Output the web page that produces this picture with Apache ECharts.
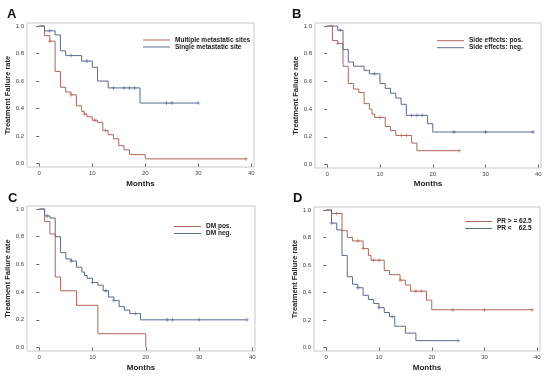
<!DOCTYPE html>
<html>
<head>
<meta charset="utf-8">
<script src="https://cdn.jsdelivr.net/npm/echarts@6/dist/echarts.min.js"></script>
<style>html,body{margin:0;padding:0;background:#fff}#c{width:550px;height:377px}</style>
</head>
<body>
<div id="c"></div>
<script>
// ---- data ----
const xTickValues = [0, 10, 20, 30, 40];
const yTickValues = [0, 0.2, 0.4, 0.6, 0.8, 1.0];
const panelLetters = ['A', 'B', 'C', 'D'];
const xTitle = 'Months';
const yTitle = 'Treatment Failure rate';

// Panel A
const aRedName = 'Multiple metastatic sites';
const aRedTimes = [0,1,2,3,4,5,6,7,8,8.5,9,10,11,12,13,14,15,16,17,20,39];
const aRedVals  = [1,0.93,0.89,0.67,0.555,0.52,0.50,0.42,0.38,0.36,0.34,0.315,0.30,0.24,0.21,0.18,0.13,0.10,0.065,0.034,0.034];
const aRedCens  = [2,6,8.5,10.5,12.5,39];
const aBlueName = 'Single metastatic site';
const aBlueTimes = [0,1,3,4,5,8,10,11,13,19,30];
const aBlueVals  = [1,0.965,0.935,0.82,0.785,0.745,0.70,0.60,0.55,0.44,0.44];
const aBlueCens  = [2,6,9,14,16,17,18,24,25,30];

// Panel B
const bRedName = 'Side effects: pos.';
const bRedTimes = [0,1,2,3,4,5,6,7,8,8.5,9,11,12,13,16,17,25];
const bRedVals  = [1,0.895,0.875,0.71,0.585,0.545,0.52,0.44,0.40,0.365,0.34,0.275,0.245,0.21,0.155,0.10,0.10];
const bRedCens  = [2,10,14,15,25];
const bBlueName = 'Side effects: neg.';
const bBlueTimes = [0,2,3,4,5,7,8,10,11,12,13,14,15,19,20,39];
const bBlueVals  = [1,0.97,0.83,0.74,0.71,0.68,0.655,0.585,0.55,0.515,0.48,0.435,0.355,0.295,0.235,0.235];
const bBlueCens  = [2.5,9,16,17,18,24,30,39];

// Panel C
const cRedName = 'DM pos.';
const cRedTimes = [0,1,2,3,4,7,11,20];
const cRedVals  = [1,0.91,0.82,0.51,0.41,0.305,0.10,0];
const cRedCens  = [];
const cBlueName = 'DM neg.';
const cBlueTimes = [0,1,2,3,4,5,6,7,8,8.5,9,10,11,12,13,14,15,16,17,19,39];
const cBlueVals  = [1,0.95,0.935,0.80,0.685,0.64,0.625,0.58,0.545,0.52,0.50,0.47,0.45,0.41,0.365,0.34,0.295,0.27,0.245,0.20,0.20];
const cBlueCens  = [1.5,6,10,12.5,14,18,24,25,30,39];

// Panel D
const dRedName = 'PR > = 62.5';
const dRedTimes = [0,1,3,4,5,7,8,8.5,11,12,14,15,16,19,20,39];
const dRedVals  = [1,0.975,0.85,0.80,0.775,0.72,0.67,0.635,0.56,0.53,0.49,0.455,0.41,0.345,0.275,0.275];
const dRedCens  = [2,6,7,9,10,14,17,18,24,30,39];
const dBlueName = 'PR <    62.5';
const dBlueTimes = [0,1,2,3,4,5,6,7,8,9,10,11,12,13,15,17,25];
const dBlueVals  = [1,0.905,0.855,0.67,0.515,0.46,0.435,0.38,0.35,0.32,0.29,0.255,0.225,0.155,0.105,0.05,0.05];
const dBlueCens  = [1,6,10,12.5,25];

// ---- styles / layout ----
const RED = '#b0665c';
const BLUE = '#5c6a8e';
const panels = [
  {grid:{left:27,top:23,width:227,height:144}, letter:[7,8], yGap:9, xGap:13,
   legend:{left:143,top:36.5,gap:5.3}, red:[aRedName,aRedTimes,aRedVals,aRedCens], blue:[aBlueName,aBlueTimes,aBlueVals,aBlueCens]},
  {grid:{left:315,top:23,width:226,height:145}, letter:[292,8], yGap:12, xGap:12,
   legend:{left:437,top:37.2,gap:5.7}, red:[bRedName,bRedTimes,bRedVals,bRedCens], blue:[bBlueName,bBlueTimes,bBlueVals,bBlueCens]},
  {grid:{left:27,top:206,width:228,height:145}, letter:[8,192], yGap:9, xGap:13,
   legend:{left:174,top:223,gap:5.3}, red:[cRedName,cRedTimes,cRedVals,cRedCens], blue:[cBlueName,cBlueTimes,cBlueVals,cBlueCens]},
  {grid:{left:314,top:207,width:226,height:144}, letter:[293,192], yGap:14, xGap:13,
   legend:{left:465,top:218,gap:6}, red:[dRedName,dRedTimes,dRedVals,dRedCens], blue:[dBlueName,dBlueTimes,dBlueVals,dBlueCens]}
];

function pairs(t, v){ return t.map((x,i)=>[x, v[i]]); }
function atTime(t, v, x){ let y = v[0]; for (let i=0;i<t.length;i++){ if (t[i] <= x) y = v[i]; } return y; }
const plusSym = 'path://M4,0h2v4h4v2h-4v4h-2v-4h-4v-2h4z';

const grids=[], xAxes=[], yAxes=[], series=[], legends=[], graphics=[];
panels.forEach((p, i) => {
  grids.push(Object.assign({show:true, borderColor:'#c8c8c8', borderWidth:1, backgroundColor:'#fff'}, p.grid));
  xAxes.push({type:'value', gridIndex:i, min:-2.3, max:40.5,
    name:xTitle, nameLocation:'middle', nameGap:p.xGap,
    nameTextStyle:{fontFamily:'Liberation Sans', fontWeight:'bold', fontSize:8, color:'#222'},
    splitLine:{show:false}, axisLine:{show:false},
    axisTick:{show:true, length:3, customValues:xTickValues, lineStyle:{color:'#666', width:1}},
    axisLabel:{customValues:xTickValues, fontSize:6, color:'#444', margin:3, fontFamily:'Liberation Sans'}});
  yAxes.push({type:'value', gridIndex:i, min:-0.025, max:1.022,
    name:yTitle, nameLocation:'middle', nameGap:p.yGap, nameRotate:90,
    nameTextStyle:{fontFamily:'Liberation Sans', fontWeight:'bold', fontSize:7.5, color:'#222'},
    splitLine:{show:false}, axisLine:{show:false},
    axisTick:{show:true, length:3, customValues:yTickValues, lineStyle:{color:'#666', width:1}},
    axisLabel:{customValues:yTickValues, fontSize:6, color:'#444', margin:3, fontFamily:'Liberation Sans',
      formatter:v=>Number(v).toFixed(1)}});
  [[p.red, RED],[p.blue, BLUE]].forEach(([s, col]) => {
    series.push({type:'line', name:s[0], xAxisIndex:i, yAxisIndex:i, step:'end', showSymbol:false, symbol:'none',
      data:pairs(s[1], s[2]), lineStyle:{color:col, width:1}, itemStyle:{color:col}, silent:true, animation:false});
    series.push({type:'scatter', name:s[0]+' censored', xAxisIndex:i, yAxisIndex:i, symbol:plusSym, symbolSize:4,
      data:s[3].map(x=>[x, atTime(s[1], s[2], x)]), itemStyle:{color:col}, silent:true, animation:false});
  });
  legends.push({data:[p.red[0], p.blue[0]], orient:'vertical', left:p.legend.left, top:p.legend.top,
    icon:'rect', itemWidth:27, itemHeight:1, itemGap:0, padding:0, selectedMode:false,
    textStyle:{fontFamily:'Liberation Sans', fontWeight:'bold', fontSize:6.5, color:'#222', lineHeight:p.legend.gap, height:p.legend.gap}});
  graphics.push({type:'text', left:p.letter[0], top:p.letter[1],
    style:{text:panelLetters[i], font:'bold 13px "Liberation Sans"', fill:'#111'}});
});

const chart = echarts.init(document.getElementById('c'), null, {renderer:'canvas'});
chart.setOption({animation:false, backgroundColor:'#fff', grid:grids, xAxis:xAxes, yAxis:yAxes,
  series:series, legend:legends, graphic:graphics});
</script>
</body>
</html>
